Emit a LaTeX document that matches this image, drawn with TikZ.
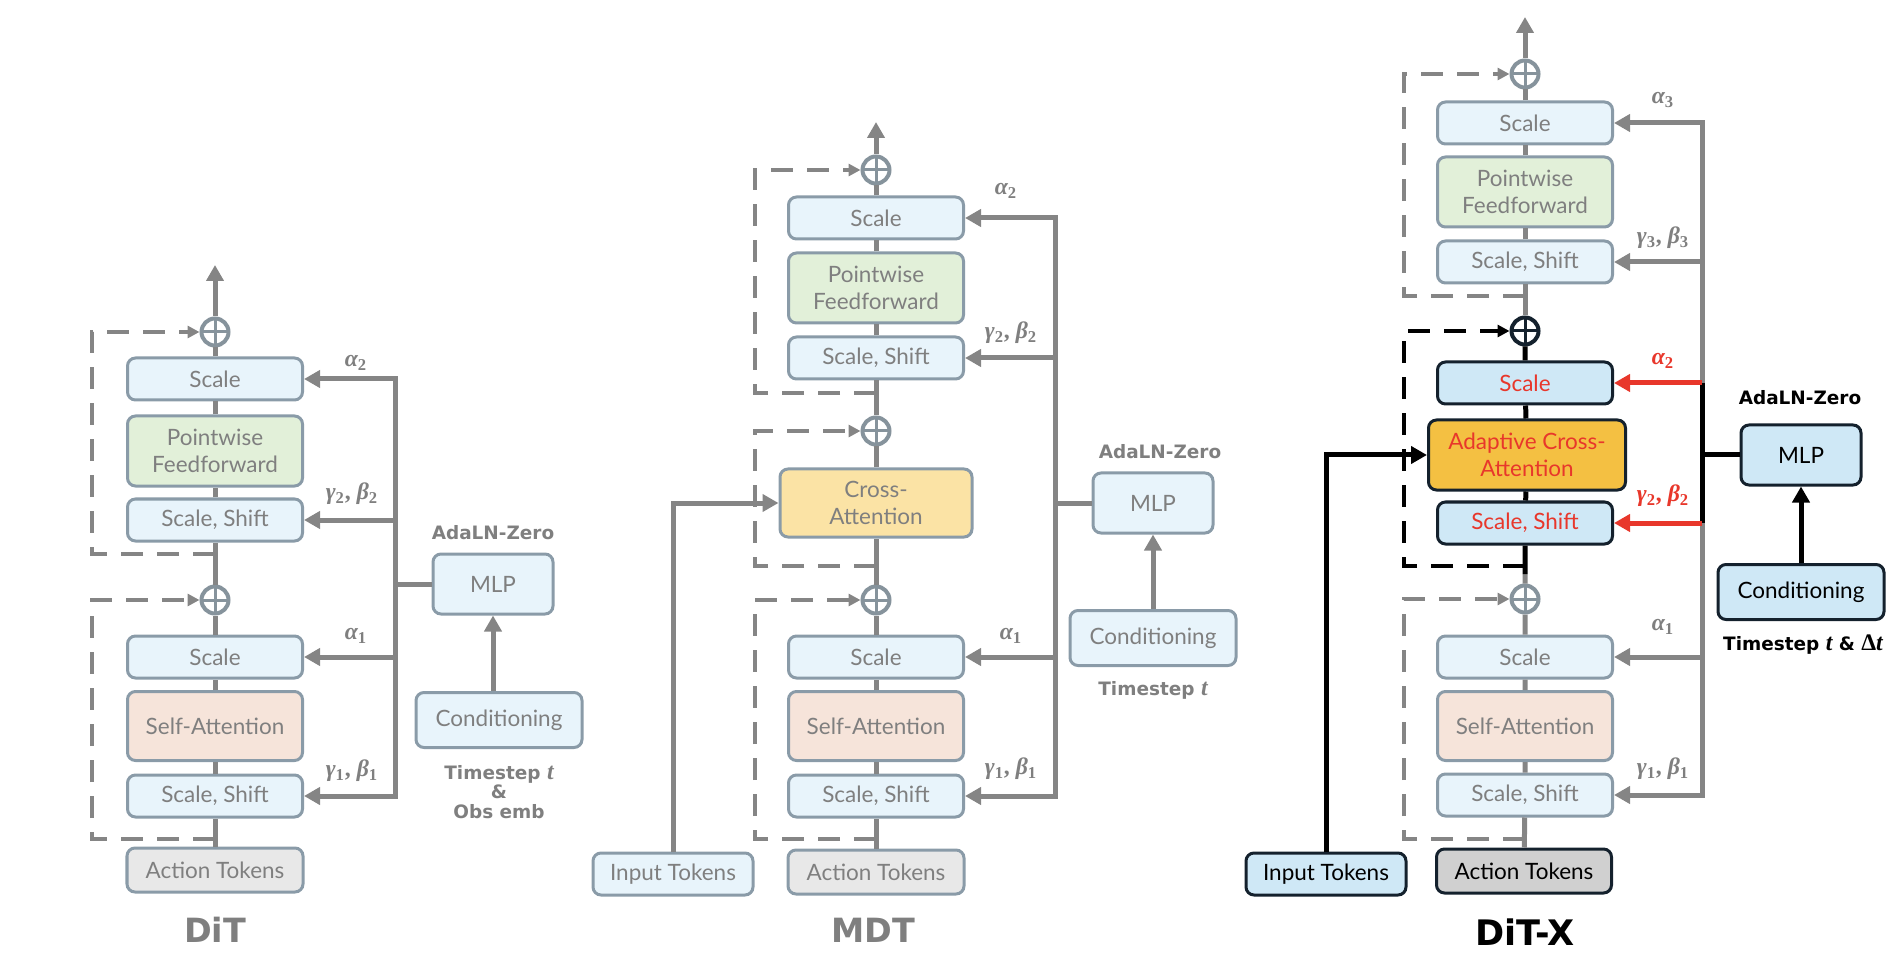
\documentclass[tikz,border=0pt]{standalone}
\usepackage{amsmath,amssymb}
\usepackage{fontspec}
\setmainfont{Lato}
\newfontfamily\notefont{DejaVu Sans}
\newfontfamily\grk{Liberation Serif}
\newcommand{\gsub}[2]{{\itshape #1}\textsubscript{#2}}
\newcommand{\tvar}[1]{{\grk\fontsize{13.5}{11}\selectfont #1\itshape t}}
\usepackage{xcolor}
\usepackage{tikz}
\usetikzlibrary{arrows.meta,calc}

\definecolor{txtgray}{HTML}{7F7F7F}
\definecolor{linegray}{HTML}{858585}
\definecolor{boxline}{HTML}{8A9BA8}
\definecolor{pluscol}{HTML}{86939C}
\definecolor{lightblue}{HTML}{E8F4FB}
\definecolor{ffgreen}{HTML}{E2F0D9}
\definecolor{sapeach}{HTML}{F6E4DA}
\definecolor{cayellow}{HTML}{FBE3A5}
\definecolor{actgray}{HTML}{E8E8E8}
\definecolor{xblue}{HTML}{CFE8F6}
\definecolor{xline}{HTML}{14212D}
\definecolor{xorange}{HTML}{F4C042}
\definecolor{xact}{HTML}{D0D0D0}
\definecolor{xred}{HTML}{E8372B}

\begin{document}
\begin{tikzpicture}[x=0.2mm,y=-0.2mm,
    box/.style={draw=boxline, line width=0.6mm, rounded corners=1.6mm,
        fill=lightblue, text=txtgray, minimum width=35mm,
        minimum height=8.4mm, inner sep=0pt, align=center,
        font=\fontsize{12.8}{15.5}\selectfont},
    tallbox/.style={box, minimum height=14mm},
    xbox/.style={box, draw=xline, fill=xblue, text=black},
    plusnode/.style={circle, draw=#1, line width=0.8mm, minimum size=5.4mm,
        inner sep=0pt, path picture={\draw[#1, line width=0.6mm]
        (path picture bounding box.north) -- (path picture bounding box.south)
        (path picture bounding box.west) -- (path picture bounding box.east);}},
    plusnode/.default=pluscol,
    mainline/.style={linegray, line width=1mm},
    tip/.style={-{Triangle[length=3.2mm,width=3.4mm]}},
    skip/.style={linegray, line width=0.7mm, dash pattern=on 4.4mm off 2.8mm,
        -{Triangle[length=2.4mm,width=2.4mm]}},
    lbl/.style={text=txtgray, font=\grk\bfseries\fontsize{13.5}{15}\selectfont},
    note/.style={text=txtgray, align=center,
        font=\notefont\bfseries\fontsize{10.5}{11}\selectfont},
    title/.style={text=txtgray, font=\notefont\bfseries\fontsize{19}{22}\selectfont}]

    \useasboundingbox (0,0) rectangle (1900,960);

    % -- DiT on the left --
    \node[box, fill=actgray, minimum width=35.2mm, minimum height=8.8mm]
        (dact) at (215,870) {Action Tokens};
    \node[box] (dss1) at (215,796) {Scale, Shift};
    \node[tallbox, fill=sapeach, minimum height=13.8mm] (dsa) at (215,726) {Self-Attention};
    \node[box] (dsc1) at (215,657) {Scale};
    \node[plusnode] (dplus1) at (215,600) {};
    \node[box] (dss2) at (215,520) {Scale, Shift};
    \node[tallbox, fill=ffgreen] (dff) at (215,451) {Pointwise\\Feedforward};
    \node[box] (dsc2) at (215,379) {Scale};
    \node[plusnode] (dplus2) at (215,332) {};
    \coordinate (dout) at (215,265);
    \node[title] (dtitle) at (215,930) {DiT};

    % main stream
    \draw[mainline] (dact) -- (dss1) -- (dsa) -- (dsc1) -- (dplus1)
        -- (dss2) -- (dff) -- (dsc2) -- (dplus2);
    \draw[mainline,tip] (dplus2) -- (dout);

    % residual skips
    \coordinate (dskip1) at (215,839);
    \coordinate (dskip2) at (215,554);
    \draw[skip] (dskip1) -- ++(-123,0) |- (dplus1.west);
    \draw[skip] (dskip2) -- ++(-123,0) |- (dplus2.west);

    % AdaLN-Zero
    \node[box, minimum width=24mm, minimum height=12mm] (dmlp) at (493,584) {MLP};
    \node[note] (dada) at (493,533) {AdaLN-Zero};
    \node[box, minimum width=33.2mm, minimum height=11mm] (dcond) at (499,720) {Conditioning};
    \node[note] (dtime) at (499,792) {Timestep \tvar{}\\\&\\Obs emb};
    \draw[mainline,tip] (dcond.north -| dmlp.south) -- (dmlp.south);

    \coordinate (dbus) at (395,0);
    \draw[mainline,{Triangle[length=3.2mm,width=3.4mm]}-{Triangle[length=3.2mm,width=3.4mm]}]
        (dsc2.east) -- (dbus |- dsc2.east) -- (dbus |- dss1.east) -- (dss1.east);
    \draw[mainline,tip] (dbus |- dss2.east) -- (dss2.east);
    \draw[mainline,tip] (dbus |- dsc1.east) -- (dsc1.east);
    \draw[mainline] (dbus |- dmlp.west) -- (dmlp.west);

    \node[lbl] (dla2) at (356,363) {\gsub{α}{2}};
    \node[lbl] (dlg2) at (352,494) {\gsub{γ}{2}, \gsub{β}{2}};
    \node[lbl] (dla1) at (356,636) {\gsub{α}{1}};
    \node[lbl] (dlg1) at (352,771) {\gsub{γ}{1}, \gsub{β}{1}};

    % -- MDT in the middle --
    \node[box, fill=actgray, minimum width=35.2mm, minimum height=8.8mm]
        (mact) at (876,872) {Action Tokens};
    \node[box, minimum width=32mm] (minp) at (673,874) {Input Tokens};
    \node[box] (mss1) at (876,796) {Scale, Shift};
    \node[tallbox, fill=sapeach, minimum height=13.8mm] (msa) at (876,726) {Self-Attention};
    \node[box] (msc1) at (876,657) {Scale};
    \node[plusnode] (mplus1) at (876,600) {};
    \node[tallbox, fill=cayellow, minimum width=38.4mm, minimum height=13.6mm]
        (mca) at (876,503) {Cross-\\Attention};
    \node[plusnode] (mplus2) at (876,431) {};
    \node[box] (mss2) at (876,358) {Scale, Shift};
    \node[tallbox, fill=ffgreen] (mff) at (876,288) {Pointwise\\Feedforward};
    \node[box] (msc2) at (876,218) {Scale};
    \node[plusnode] (mplus3) at (876,170) {};
    \coordinate (mout) at (876,122);
    \node[title] (mtitle) at (873,930) {MDT};

    % main stream
    \draw[mainline] (mact) -- (mss1) -- (msa) -- (msc1) -- (mplus1)
        -- (mca) -- (mplus2) -- (mss2) -- (mff) -- (msc2) -- (mplus3);
    \draw[mainline,tip] (mplus3) -- (mout);
    \draw[mainline,tip] (minp) |- (mca.west);

    % residual skips
    \coordinate (mskip1) at (876,839);
    \coordinate (mskip2) at (876,566);
    \coordinate (mskip3) at (876,393);
    \draw[skip] (mskip1) -- ++(-121,0) |- (mplus1.west);
    \draw[skip] (mskip2) -- ++(-121,0) |- (mplus2.west);
    \draw[skip] (mskip3) -- ++(-121,0) |- (mplus3.west);

    % AdaLN-Zero
    \node[box, minimum width=24mm, minimum height=12mm] (mmlp) at (1153,503) {MLP};
    \node[note] (mada) at (1160,452) {AdaLN-Zero};
    \node[box, minimum width=33.2mm, minimum height=11mm] (mcond) at (1153,638) {Conditioning};
    \node[note] (mtime) at (1153,690) {Timestep \tvar{}};
    \draw[mainline,tip] (mcond) -- (mmlp);

    \coordinate (mbus) at (1055,0);
    \draw[mainline,{Triangle[length=3.2mm,width=3.4mm]}-{Triangle[length=3.2mm,width=3.4mm]}]
        (msc2.east) -- (mbus |- msc2.east) -- (mbus |- mss1.east) -- (mss1.east);
    \draw[mainline,tip] (mbus |- mss2.east) -- (mss2.east);
    \draw[mainline,tip] (mbus |- msc1.east) -- (msc1.east);
    \draw[mainline] (mbus |- mmlp.west) -- (mmlp.west);

    \node[lbl] (mla2) at (1006,191) {\gsub{α}{2}};
    \node[lbl] (mlg2) at (1011,333) {\gsub{γ}{2}, \gsub{β}{2}};
    \node[lbl] (mla1) at (1011,636) {\gsub{α}{1}};
    \node[lbl] (mlg1) at (1011,769) {\gsub{γ}{1}, \gsub{β}{1}};

    % -- DiT-X on the right --
    \node[xbox, fill=xact, minimum width=35mm, minimum height=8.8mm]
        (xact) at (1524,871) {Action Tokens};
    \node[xbox, minimum width=32mm] (xinp) at (1326,874) {Input Tokens};
    \node[box] (xss1) at (1525,795) {Scale, Shift};
    \node[tallbox, fill=sapeach, minimum height=13.8mm] (xsa) at (1525,726) {Self-Attention};
    \node[box] (xsc1) at (1525,657) {Scale};
    \node[plusnode] (xplus1) at (1525,599) {};
    \node[xbox, text=xred] (xss2) at (1525,523) {Scale, Shift};
    \node[xbox, fill=xorange, text=xred, minimum width=39.4mm, minimum height=14mm]
        (xaca) at (1527,455) {Adaptive Cross-\\Attention};
    \node[xbox, text=xred] (xsc2) at (1525,383) {Scale};
    \node[plusnode=xline] (xplus2) at (1525,331) {};
    \node[box] (xss3) at (1525,262) {Scale, Shift};
    \node[tallbox, fill=ffgreen] (xff) at (1525,192) {Pointwise\\Feedforward};
    \node[box] (xsc3) at (1525,123) {Scale};
    \node[plusnode] (xplus3) at (1525,74) {};
    \coordinate (xout) at (1525,17);
    \node[title, text=black, font=\notefont\bfseries\fontsize{20}{22}\selectfont]
        (xtitle) at (1525,932) {DiT-X};

    % main stream
    \coordinate (xskip1) at (1525,839);
    \coordinate (xskip2) at (1525,566);
    \coordinate (xskip3) at (1525,296);
    \coordinate (xdark) at (1525,574);
    \draw[mainline] (xact) -- (xss1) -- (xsa) -- (xsc1) -- (xplus1) -- (xdark);
    \draw[mainline, black] (xdark) -- (xss2) -- (xaca) -- (xsc2) -- (xplus2);
    \draw[mainline] (xplus2) -- (xss3) -- (xff) -- (xsc3) -- (xplus3);
    \draw[mainline,tip] (xplus3) -- (xout);
    \draw[mainline,black,tip] (xinp) |- (xaca.west);

    % residual skips
    \draw[skip] (xskip1) -- ++(-121,0) |- (xplus1.west);
    \draw[skip, black] (xskip2) -- ++(-121,0) |- (xplus2.west);
    \draw[skip] (xskip3) -- ++(-121,0) |- (xplus3.west);

    % AdaLN-Zero
    \node[xbox, minimum width=24mm, minimum height=12mm] (xmlp) at (1801,455) {MLP};
    \node[note, text=black] (xada) at (1800,398) {AdaLN-Zero};
    \node[xbox, minimum width=33.2mm, minimum height=11mm] (xcond) at (1801,592) {Conditioning};
    \node[note, text=black] (xtime) at (1803,645) {Timestep \tvar{} \& \tvar{Δ}};
    \draw[mainline,black,tip] (xcond) -- (xmlp);

    \coordinate (xbus) at (1702,0);
    \draw[mainline,{Triangle[length=3.2mm,width=3.4mm]}-{Triangle[length=3.2mm,width=3.4mm]}]
        (xsc3.east) -- (xbus |- xsc3.east) -- (xbus |- xss1.east) -- (xss1.east);
    \draw[mainline,tip] (xbus |- xss3.east) -- (xss3.east);
    \draw[mainline,tip] (xbus |- xsc1.east) -- (xsc1.east);
    \draw[mainline,black] (xbus |- xsc2.east) -- (xbus |- xss2.east);
    \draw[mainline,black] (xbus |- xmlp.west) -- (xmlp.west);
    \draw[mainline,xred,tip] (xbus |- xsc2.east) -- (xsc2.east);
    \draw[mainline,xred,tip] (xbus |- xss2.east) -- (xss2.east);

    \node[lbl] (xla3) at (1663,100) {\gsub{α}{3}};
    \node[lbl] (xlg3) at (1663,238) {\gsub{γ}{3}, \gsub{β}{3}};
    \node[lbl, text=xred] (xla2) at (1663,361) {\gsub{α}{2}};
    \node[lbl, text=xred] (xlg2) at (1663,496) {\gsub{γ}{2}, \gsub{β}{2}};
    \node[lbl] (xla1) at (1663,627) {\gsub{α}{1}};
    \node[lbl] (xlg1) at (1663,769) {\gsub{γ}{1}, \gsub{β}{1}};

\end{tikzpicture}
\end{document}
